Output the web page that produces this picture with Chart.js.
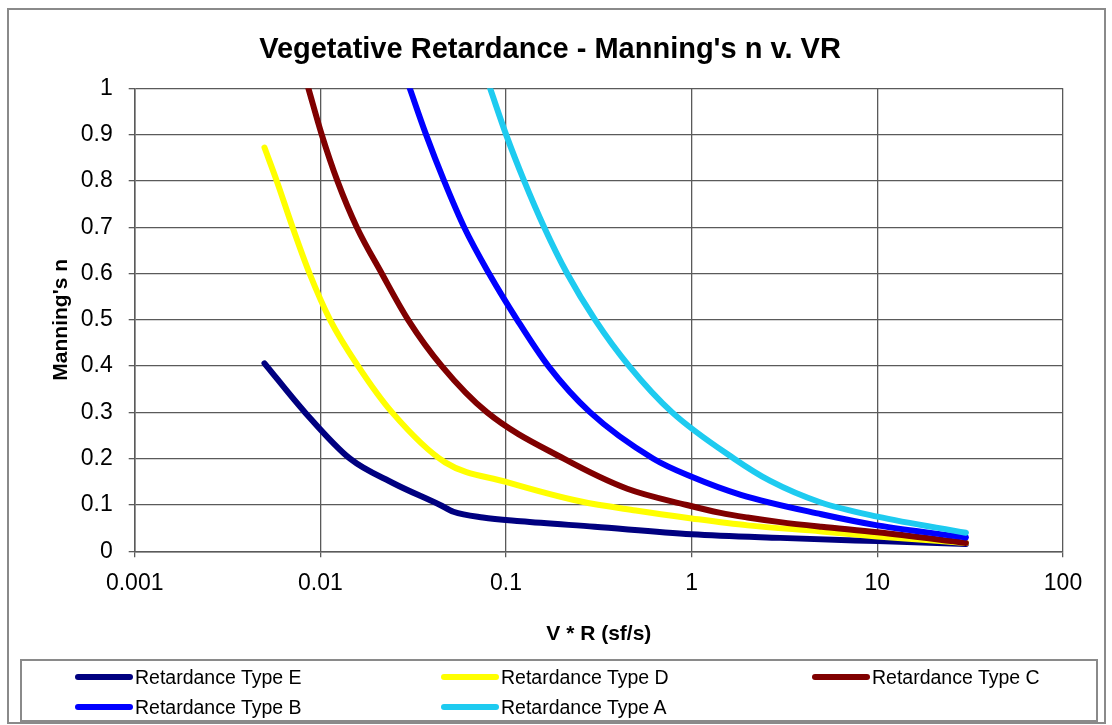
<!DOCTYPE html>
<html>
<head>
<meta charset="utf-8">
<script src="https://cdn.jsdelivr.net/npm/chart.js@4.4.1/dist/chart.umd.min.js"></script>
<style>
  html, body { margin: 0; padding: 0; background: #fff; }
  body { width: 1112px; height: 725px; position: relative; overflow: hidden; font-family: "Liberation Sans", Arial, sans-serif; }
  #frame { position: absolute; left: 7px; top: 8px; width: 1099px; height: 716px; border: 2px solid #8a8a8a; box-sizing: border-box; }
  #wrap { position: absolute; left: 0; top: 0; width: 1112px; height: 660px; }
  #legend { position: absolute; left: 20px; top: 659px; width: 1078px; height: 63px; border: 2px solid #8a8a8a; box-sizing: border-box; }
  .item { position: absolute; height: 24px; display: flex; align-items: center; font-size: 19.5px; color: #000; white-space: nowrap; }
  .swatch { width: 58px; height: 6px; border-radius: 3px; margin-right: 2px; }
</style>
</head>
<body>
<div id="frame"></div>
<div id="wrap"><canvas id="chart"></canvas></div>
<div id="legend"></div>
<script>
// V*R (sf/s) and Manning's n
const typeE_vr = [0.005, 0.00827, 0.01445, 0.02474, 0.04416, 0.05208, 0.075, 0.12, 0.3, 1, 3, 10, 30];
const typeE_n  = [0.406, 0.3, 0.2, 0.147, 0.1, 0.0855, 0.073, 0.065, 0.053, 0.037, 0.029, 0.022, 0.016];

const typeD_vr = [0.005, 0.005823, 0.007085, 0.008747, 0.01128, 0.01597, 0.02434, 0.047, 0.1, 0.25, 0.5, 1, 2, 5, 10, 30];
const typeD_n  = [0.872, 0.8, 0.7, 0.6, 0.5, 0.4, 0.3, 0.192, 0.15, 0.108, 0.088, 0.071, 0.056, 0.043, 0.032, 0.018];

const typeC_vr = [0.00862, 0.01017, 0.01235, 0.01571, 0.02142, 0.02969, 0.0451, 0.0791, 0.2048, 0.45, 0.942, 1.43, 2, 3, 5, 10, 30];
const typeC_n  = [1.0, 0.9, 0.8, 0.7, 0.6, 0.5, 0.4, 0.3, 0.2, 0.135, 0.1, 0.083, 0.073, 0.063, 0.053, 0.041, 0.018];

const typeB_vr = [0.0303, 0.0371, 0.0464, 0.0595, 0.081, 0.1148, 0.169, 0.284, 0.622, 1, 1.84, 5, 10, 30];
const typeB_n  = [1.0, 0.9, 0.8, 0.7, 0.6, 0.5, 0.4, 0.3, 0.2, 0.161, 0.122, 0.08, 0.056, 0.03];

const typeA_vr = [0.0821, 0.1001, 0.1252, 0.1605, 0.2134, 0.302, 0.4607, 0.785, 1.694, 2.65, 4.92, 10, 30];
const typeA_n  = [1.0, 0.9, 0.8, 0.7, 0.6, 0.5, 0.4, 0.3, 0.2, 0.152, 0.106, 0.075, 0.040];

const seriesNames  = ['Retardance Type E', 'Retardance Type D', 'Retardance Type C', 'Retardance Type B', 'Retardance Type A'];
const seriesColors = ['#000080', '#FFFF00', '#800000', '#0000FF', '#1ECBF0'];

const xTicks = [0.001, 0.01, 0.1, 1, 10, 100];
const xTickLabels = ['0.001', '0.01', '0.1', '1', '10', '100'];
const yTicks = [0, 0.1, 0.2, 0.3, 0.4, 0.5, 0.6, 0.7, 0.8, 0.9, 1];
const yTickLabels = ['0', '0.1', '0.2', '0.3', '0.4', '0.5', '0.6', '0.7', '0.8', '0.9', '1'];

const seriesX = [typeE_vr, typeD_vr, typeC_vr, typeB_vr, typeA_vr];
const seriesY = [typeE_n, typeD_n, typeC_n, typeB_n, typeA_n];

Chart.defaults.font.family = '"Liberation Sans", Arial, sans-serif';
Chart.defaults.color = '#000';

const datasets = seriesNames.map((name, i) => ({
    label: name,
    data: seriesX[i].map((x, j) => ({ x: x, y: seriesY[i][j] })),
    borderColor: seriesColors[i],
    backgroundColor: seriesColors[i],
    borderWidth: 6,
    borderCapStyle: 'round',
    borderJoinStyle: 'round',
    pointRadius: 0,
    cubicInterpolationMode: 'monotone',
    fill: false,
    clip: 0,
    order: seriesNames.length - 1 - i   // Type A drawn on top, like Excel
}));

const gridColor = '#5a5a5a';

new Chart(document.getElementById('chart'), {
    type: 'line',
    data: { datasets: datasets },
    options: {
        responsive: true,
        maintainAspectRatio: false,
        animation: false,
        layout: { padding: { left: 0, right: 12, top: 0, bottom: 0 } },
        plugins: {
            legend: { display: false },
            tooltip: { enabled: false },
            title: {
                display: true,
                text: "Vegetative Retardance - Manning's n v. VR",
                font: { size: 29, weight: 'bold' },
                color: '#000',
                padding: { top: 32.6, bottom: 20.9 }
            }
        },
        scales: {
            x: {
                type: 'logarithmic',
                position: 'bottom',
                min: 0.001,
                max: 100,
                afterBuildTicks: (s) => { s.ticks = xTicks.map(v => ({ value: v })); },
                afterFit: (s) => { s.height = 108.7; },
                ticks: {
                    autoSkip: false,
                    maxRotation: 0,
                    padding: 13,
                    font: { size: 23 },
                    callback: (v, i) => xTickLabels[i]
                },
                grid: { color: gridColor, lineWidth: 1.3, tickLength: 6 },
                border: { color: gridColor, width: 1.5 },
                title: {
                    display: true,
                    text: 'V * R (sf/s)',
                    font: { size: 21, weight: 'bold' },
                    padding: { top: 0, bottom: 13 }
                }
            },
            y: {
                min: 0,
                max: 1,
                afterBuildTicks: (s) => { s.ticks = yTicks.map(v => ({ value: v })); },
                afterFit: (s) => { s.width = 134.7; },
                ticks: {
                    autoSkip: false,
                    padding: 16,
                    font: { size: 23 },
                    callback: (v, i) => yTickLabels[i]
                },
                grid: { color: gridColor, lineWidth: 1.3, tickLength: 6 },
                border: { color: gridColor, width: 1.5 },
                title: {
                    display: true,
                    text: "Manning's n",
                    font: { size: 21, weight: 'bold' },
                    padding: { top: 49, bottom: 0 }
                }
            },
            // empty strip on the right so the title centres like the original
            yRight: {
                position: 'right',
                display: true,
                min: 0,
                max: 1,
                grid: { display: false },
                ticks: { display: false },
                border: { display: false },
                afterFit: (s) => { s.width = 37; }
            }
        }
    }
});

// legend laid out like Excel's: three columns, two rows
const legendCols = [53, 419, 790];
const legendRows = [4, 34];
const legendBox = document.getElementById('legend');
seriesNames.forEach((name, i) => {
    const item = document.createElement('div');
    item.className = 'item';
    item.style.left = legendCols[i % 3] + 'px';
    item.style.top = legendRows[Math.floor(i / 3)] + 'px';
    const sw = document.createElement('span');
    sw.className = 'swatch';
    sw.style.background = seriesColors[i];
    item.appendChild(sw);
    item.appendChild(document.createTextNode(name));
    legendBox.appendChild(item);
});
</script>
</body>
</html>
